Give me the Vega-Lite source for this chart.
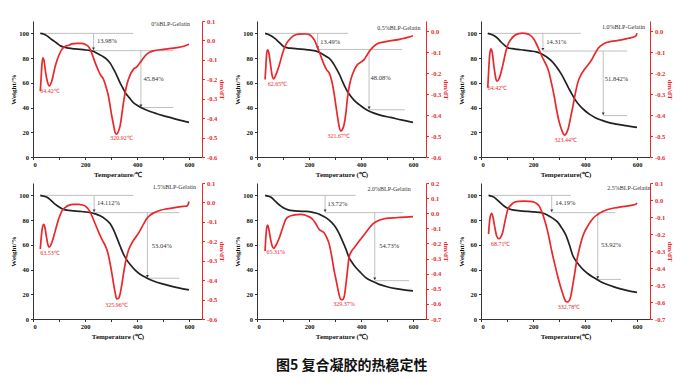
{
"$schema": "https://vega.github.io/schema/vega-lite/v6.json",
"background": "white",
"padding": {"left": 9, "top": 18, "right": 5, "bottom": 5},
"title": {"text": "图5 复合凝胶的热稳定性", "orient": "bottom", "font": "Noto Sans CJK SC", "fontSize": 14, "fontWeight": "bold", "anchor": "middle", "offset": 20, "dx": 10, "color": "#111"},
"columns": 3,
"spacing": {"row": 26, "column": 55},
"bounds": "flush",
"config": {
  "view": {"stroke": null},
  "axis": {"labelFont": "Liberation Serif", "labelFontWeight": "bold", "titleFont": "Liberation Serif", "titleFontWeight": "bold", "labelFontSize": 6.5, "titleFontSize": 7, "grid": false, "tickSize": 2.5, "domainColor": "#333", "tickColor": "#333", "labelColor": "#111", "titleColor": "#111", "labelPadding": 2, "titlePadding": 2, "labelOverlap": false}
},
"datasets": {
"tg": [
{"p":1,"t":28,"w":100},{"p":1,"t":40,"w":99.5},{"p":1,"t":54,"w":98},{"p":1,"t":66,"w":96},{"p":1,"t":79,"w":94},{"p":1,"t":92,"w":92},{"p":1,"t":105,"w":90},{"p":1,"t":120,"w":88.8},{"p":1,"t":137,"w":88},{"p":1,"t":160,"w":87.4},{"p":1,"t":182,"w":87},{"p":1,"t":200,"w":86.6},{"p":1,"t":220,"w":86},{"p":1,"t":234,"w":85.3},{"p":1,"t":246,"w":84},{"p":1,"t":265,"w":81.8},{"p":1,"t":284,"w":79},{"p":1,"t":298,"w":75.5},{"p":1,"t":310,"w":71},{"p":1,"t":322,"w":66},{"p":1,"t":335,"w":60},{"p":1,"t":345,"w":56},{"p":1,"t":355,"w":52},{"p":1,"t":370,"w":48},{"p":1,"t":386,"w":44},{"p":1,"t":405,"w":41.3},{"p":1,"t":425,"w":39},{"p":1,"t":450,"w":36.8},{"p":1,"t":476,"w":35},{"p":1,"t":500,"w":33.5},{"p":1,"t":527,"w":32},{"p":1,"t":560,"w":30},{"p":1,"t":600,"w":28},
{"p":2,"t":31,"w":100},{"p":2,"t":42,"w":99.3},{"p":2,"t":54,"w":98},{"p":2,"t":66,"w":96.3},{"p":2,"t":79,"w":94},{"p":2,"t":92,"w":91.3},{"p":2,"t":105,"w":89},{"p":2,"t":118,"w":88.3},{"p":2,"t":130,"w":88},{"p":2,"t":155,"w":87.5},{"p":2,"t":182,"w":87},{"p":2,"t":200,"w":86.7},{"p":2,"t":220,"w":86},{"p":2,"t":233,"w":85.2},{"p":2,"t":246,"w":84},{"p":2,"t":265,"w":81.5},{"p":2,"t":284,"w":78.5},{"p":2,"t":297,"w":74.5},{"p":2,"t":309,"w":70},{"p":2,"t":320,"w":65.5},{"p":2,"t":329,"w":61},{"p":2,"t":338,"w":57},{"p":2,"t":348,"w":53},{"p":2,"t":360,"w":49.3},{"p":2,"t":373,"w":46},{"p":2,"t":392,"w":42.5},{"p":2,"t":412,"w":39.5},{"p":2,"t":430,"w":37.3},{"p":2,"t":450,"w":35.5},{"p":2,"t":480,"w":33.5},{"p":2,"t":514,"w":32},{"p":2,"t":555,"w":30},{"p":2,"t":600,"w":28},
{"p":3,"t":26,"w":100},{"p":3,"t":38,"w":99.3},{"p":3,"t":51,"w":98},{"p":3,"t":64,"w":96},{"p":3,"t":77,"w":93},{"p":3,"t":90,"w":90.5},{"p":3,"t":103,"w":88.4},{"p":3,"t":120,"w":87.6},{"p":3,"t":142,"w":87},{"p":3,"t":165,"w":86.5},{"p":3,"t":193,"w":85.7},{"p":3,"t":212,"w":85},{"p":3,"t":232,"w":83.5},{"p":3,"t":250,"w":81.3},{"p":3,"t":270,"w":78},{"p":3,"t":290,"w":73},{"p":3,"t":309,"w":67},{"p":3,"t":322,"w":62},{"p":3,"t":335,"w":56.5},{"p":3,"t":348,"w":51.5},{"p":3,"t":360,"w":47},{"p":3,"t":380,"w":41.5},{"p":3,"t":399,"w":37.6},{"p":3,"t":418,"w":34.5},{"p":3,"t":438,"w":32},{"p":3,"t":463,"w":29.8},{"p":3,"t":489,"w":28},{"p":3,"t":520,"w":26.6},{"p":3,"t":554,"w":25.4},{"p":3,"t":600,"w":24},
{"p":4,"t":28,"w":100},{"p":4,"t":41,"w":99.4},{"p":4,"t":54,"w":98.4},{"p":4,"t":66,"w":96.5},{"p":4,"t":79,"w":94},{"p":4,"t":92,"w":91.8},{"p":4,"t":105,"w":90},{"p":4,"t":118,"w":88.7},{"p":4,"t":130,"w":88},{"p":4,"t":155,"w":87.5},{"p":4,"t":182,"w":87},{"p":4,"t":200,"w":86.6},{"p":4,"t":220,"w":86},{"p":4,"t":240,"w":85},{"p":4,"t":258,"w":83.5},{"p":4,"t":278,"w":80.8},{"p":4,"t":297,"w":77},{"p":4,"t":310,"w":72},{"p":4,"t":322,"w":66},{"p":4,"t":335,"w":59},{"p":4,"t":348,"w":52.4},{"p":4,"t":360,"w":48},{"p":4,"t":373,"w":44.3},{"p":4,"t":392,"w":39.8},{"p":4,"t":412,"w":36.2},{"p":4,"t":437,"w":33.2},{"p":4,"t":463,"w":30.8},{"p":4,"t":495,"w":28.6},{"p":4,"t":527,"w":26.8},{"p":4,"t":560,"w":25.2},{"p":4,"t":600,"w":23.5},
{"p":5,"t":31,"w":100},{"p":5,"t":42,"w":99.4},{"p":5,"t":54,"w":98.4},{"p":5,"t":66,"w":96.2},{"p":5,"t":79,"w":93.5},{"p":5,"t":92,"w":91.3},{"p":5,"t":105,"w":89.5},{"p":5,"t":120,"w":88.3},{"p":5,"t":137,"w":87.6},{"p":5,"t":160,"w":87.2},{"p":5,"t":188,"w":87},{"p":5,"t":210,"w":86.5},{"p":5,"t":226,"w":85.7},{"p":5,"t":245,"w":84.2},{"p":5,"t":265,"w":82},{"p":5,"t":285,"w":78.5},{"p":5,"t":303,"w":74},{"p":5,"t":316,"w":69},{"p":5,"t":329,"w":63},{"p":5,"t":342,"w":56.5},{"p":5,"t":354,"w":49.7},{"p":5,"t":367,"w":45.3},{"p":5,"t":380,"w":41.6},{"p":5,"t":400,"w":37.2},{"p":5,"t":418,"w":33.5},{"p":5,"t":444,"w":30.5},{"p":5,"t":470,"w":28},{"p":5,"t":500,"w":26.1},{"p":5,"t":534,"w":24.6},{"p":5,"t":565,"w":23.6},{"p":5,"t":600,"w":22.7},
{"p":6,"t":29,"w":100},{"p":6,"t":40,"w":99.4},{"p":6,"t":51,"w":98.4},{"p":6,"t":64,"w":96},{"p":6,"t":77,"w":93.5},{"p":6,"t":90,"w":91.2},{"p":6,"t":103,"w":89.5},{"p":6,"t":115,"w":88.6},{"p":6,"t":128,"w":88},{"p":6,"t":150,"w":87.5},{"p":6,"t":179,"w":87},{"p":6,"t":205,"w":86.6},{"p":6,"t":231,"w":86},{"p":6,"t":245,"w":85.2},{"p":6,"t":256,"w":84},{"p":6,"t":275,"w":81.6},{"p":6,"t":295,"w":78.4},{"p":6,"t":311,"w":73.5},{"p":6,"t":327,"w":67.6},{"p":6,"t":340,"w":60},{"p":6,"t":353,"w":51.4},{"p":6,"t":365,"w":47},{"p":6,"t":378,"w":43.5},{"p":6,"t":395,"w":39.5},{"p":6,"t":410,"w":36.8},{"p":6,"t":435,"w":33.3},{"p":6,"t":462,"w":30},{"p":6,"t":494,"w":27.3},{"p":6,"t":526,"w":25},{"p":6,"t":560,"w":23.2},{"p":6,"t":600,"w":21.6}
],
"dtg": [
{"p":1,"t":28,"d":-0.26},{"p":1,"t":31,"d":-0.2},{"p":1,"t":34,"d":-0.13},{"p":1,"t":38,"d":-0.09},{"p":1,"t":42,"d":-0.1},{"p":1,"t":48,"d":-0.16},{"p":1,"t":55,"d":-0.21},{"p":1,"t":63,"d":-0.234},{"p":1,"t":72,"d":-0.21},{"p":1,"t":86,"d":-0.13},{"p":1,"t":100,"d":-0.075},{"p":1,"t":111,"d":-0.046},{"p":1,"t":125,"d":-0.03},{"p":1,"t":137,"d":-0.025},{"p":1,"t":150,"d":-0.018},{"p":1,"t":169,"d":-0.015},{"p":1,"t":185,"d":-0.015},{"p":1,"t":201,"d":-0.02},{"p":1,"t":212,"d":-0.03},{"p":1,"t":220,"d":-0.046},{"p":1,"t":230,"d":-0.08},{"p":1,"t":239,"d":-0.114},{"p":1,"t":250,"d":-0.15},{"p":1,"t":258,"d":-0.174},{"p":1,"t":271,"d":-0.2},{"p":1,"t":280,"d":-0.235},{"p":1,"t":290,"d":-0.286},{"p":1,"t":303,"d":-0.389},{"p":1,"t":312,"d":-0.45},{"p":1,"t":316,"d":-0.475},{"p":1,"t":322,"d":-0.483},{"p":1,"t":328,"d":-0.47},{"p":1,"t":335,"d":-0.44},{"p":1,"t":348,"d":-0.32},{"p":1,"t":358,"d":-0.245},{"p":1,"t":367,"d":-0.2},{"p":1,"t":386,"d":-0.149},{"p":1,"t":400,"d":-0.135},{"p":1,"t":412,"d":-0.114},{"p":1,"t":425,"d":-0.09},{"p":1,"t":437,"d":-0.072},{"p":1,"t":450,"d":-0.06},{"p":1,"t":463,"d":-0.054},{"p":1,"t":501,"d":-0.046},{"p":1,"t":553,"d":-0.037},{"p":1,"t":580,"d":-0.03},{"p":1,"t":600,"d":-0.02},
{"p":2,"t":31,"d":-0.231},{"p":2,"t":34,"d":-0.17},{"p":2,"t":37,"d":-0.11},{"p":2,"t":41,"d":-0.089},{"p":2,"t":45,"d":-0.1},{"p":2,"t":52,"d":-0.16},{"p":2,"t":58,"d":-0.21},{"p":2,"t":64,"d":-0.228},{"p":2,"t":72,"d":-0.21},{"p":2,"t":86,"d":-0.16},{"p":2,"t":100,"d":-0.1},{"p":2,"t":111,"d":-0.065},{"p":2,"t":125,"d":-0.04},{"p":2,"t":137,"d":-0.025},{"p":2,"t":155,"d":-0.016},{"p":2,"t":175,"d":-0.013},{"p":2,"t":190,"d":-0.014},{"p":2,"t":201,"d":-0.017},{"p":2,"t":212,"d":-0.028},{"p":2,"t":220,"d":-0.041},{"p":2,"t":230,"d":-0.07},{"p":2,"t":239,"d":-0.097},{"p":2,"t":250,"d":-0.135},{"p":2,"t":258,"d":-0.16},{"p":2,"t":268,"d":-0.185},{"p":2,"t":278,"d":-0.2},{"p":2,"t":288,"d":-0.24},{"p":2,"t":297,"d":-0.3},{"p":2,"t":304,"d":-0.36},{"p":2,"t":310,"d":-0.41},{"p":2,"t":316,"d":-0.455},{"p":2,"t":322,"d":-0.476},{"p":2,"t":328,"d":-0.47},{"p":2,"t":335,"d":-0.445},{"p":2,"t":342,"d":-0.39},{"p":2,"t":348,"d":-0.318},{"p":2,"t":357,"d":-0.25},{"p":2,"t":367,"d":-0.207},{"p":2,"t":386,"d":-0.16},{"p":2,"t":400,"d":-0.148},{"p":2,"t":412,"d":-0.136},{"p":2,"t":425,"d":-0.11},{"p":2,"t":437,"d":-0.089},{"p":2,"t":450,"d":-0.072},{"p":2,"t":463,"d":-0.06},{"p":2,"t":480,"d":-0.054},{"p":2,"t":501,"d":-0.049},{"p":2,"t":553,"d":-0.038},{"p":2,"t":580,"d":-0.03},{"p":2,"t":600,"d":-0.022},
{"p":3,"t":26,"d":-0.27},{"p":3,"t":29,"d":-0.2},{"p":3,"t":33,"d":-0.12},{"p":3,"t":38,"d":-0.085},{"p":3,"t":43,"d":-0.1},{"p":3,"t":50,"d":-0.17},{"p":3,"t":56,"d":-0.22},{"p":3,"t":62,"d":-0.239},{"p":3,"t":70,"d":-0.225},{"p":3,"t":84,"d":-0.162},{"p":3,"t":95,"d":-0.1},{"p":3,"t":103,"d":-0.066},{"p":3,"t":115,"d":-0.04},{"p":3,"t":129,"d":-0.021},{"p":3,"t":145,"d":-0.012},{"p":3,"t":161,"d":-0.01},{"p":3,"t":175,"d":-0.012},{"p":3,"t":187,"d":-0.018},{"p":3,"t":200,"d":-0.033},{"p":3,"t":212,"d":-0.058},{"p":3,"t":222,"d":-0.085},{"p":3,"t":232,"d":-0.114},{"p":3,"t":242,"d":-0.14},{"p":3,"t":251,"d":-0.162},{"p":3,"t":260,"d":-0.19},{"p":3,"t":270,"d":-0.242},{"p":3,"t":280,"d":-0.3},{"p":3,"t":290,"d":-0.37},{"p":3,"t":300,"d":-0.43},{"p":3,"t":309,"d":-0.467},{"p":3,"t":316,"d":-0.488},{"p":3,"t":322,"d":-0.496},{"p":3,"t":328,"d":-0.488},{"p":3,"t":335,"d":-0.467},{"p":3,"t":345,"d":-0.41},{"p":3,"t":354,"d":-0.355},{"p":3,"t":364,"d":-0.29},{"p":3,"t":373,"d":-0.242},{"p":3,"t":386,"d":-0.205},{"p":3,"t":399,"d":-0.181},{"p":3,"t":412,"d":-0.16},{"p":3,"t":425,"d":-0.138},{"p":3,"t":438,"d":-0.108},{"p":3,"t":451,"d":-0.082},{"p":3,"t":463,"d":-0.068},{"p":3,"t":476,"d":-0.058},{"p":3,"t":495,"d":-0.051},{"p":3,"t":515,"d":-0.047},{"p":3,"t":540,"d":-0.042},{"p":3,"t":567,"d":-0.034},{"p":3,"t":592,"d":-0.026},{"p":3,"t":597,"d":-0.02},{"p":3,"t":600,"d":-0.01},
{"p":4,"t":28,"d":-0.24},{"p":4,"t":31,"d":-0.19},{"p":4,"t":35,"d":-0.14},{"p":4,"t":41,"d":-0.113},{"p":4,"t":46,"d":-0.13},{"p":4,"t":52,"d":-0.18},{"p":4,"t":58,"d":-0.22},{"p":4,"t":63,"d":-0.23},{"p":4,"t":70,"d":-0.215},{"p":4,"t":86,"d":-0.144},{"p":4,"t":100,"d":-0.08},{"p":4,"t":111,"d":-0.045},{"p":4,"t":125,"d":-0.025},{"p":4,"t":137,"d":-0.015},{"p":4,"t":155,"d":-0.01},{"p":4,"t":175,"d":-0.01},{"p":4,"t":190,"d":-0.013},{"p":4,"t":201,"d":-0.019},{"p":4,"t":210,"d":-0.03},{"p":4,"t":220,"d":-0.05},{"p":4,"t":230,"d":-0.08},{"p":4,"t":239,"d":-0.11},{"p":4,"t":250,"d":-0.145},{"p":4,"t":258,"d":-0.17},{"p":4,"t":268,"d":-0.198},{"p":4,"t":278,"d":-0.222},{"p":4,"t":288,"d":-0.26},{"p":4,"t":297,"d":-0.317},{"p":4,"t":304,"d":-0.37},{"p":4,"t":310,"d":-0.42},{"p":4,"t":316,"d":-0.465},{"p":4,"t":322,"d":-0.497},{"p":4,"t":328,"d":-0.495},{"p":4,"t":335,"d":-0.471},{"p":4,"t":342,"d":-0.42},{"p":4,"t":348,"d":-0.368},{"p":4,"t":357,"d":-0.3},{"p":4,"t":367,"d":-0.248},{"p":4,"t":376,"d":-0.22},{"p":4,"t":386,"d":-0.196},{"p":4,"t":399,"d":-0.172},{"p":4,"t":412,"d":-0.144},{"p":4,"t":425,"d":-0.112},{"p":4,"t":437,"d":-0.084},{"p":4,"t":450,"d":-0.066},{"p":4,"t":470,"d":-0.05},{"p":4,"t":490,"d":-0.04},{"p":4,"t":514,"d":-0.033},{"p":4,"t":545,"d":-0.027},{"p":4,"t":578,"d":-0.02},{"p":4,"t":591,"d":-0.019},{"p":4,"t":596,"d":-0.012},{"p":4,"t":600,"d":0.005},
{"p":5,"t":31,"d":-0.25},{"p":5,"t":34,"d":-0.16},{"p":5,"t":37,"d":-0.1},{"p":5,"t":41,"d":-0.078},{"p":5,"t":45,"d":-0.1},{"p":5,"t":52,"d":-0.17},{"p":5,"t":58,"d":-0.215},{"p":5,"t":64,"d":-0.233},{"p":5,"t":72,"d":-0.215},{"p":5,"t":86,"d":-0.162},{"p":5,"t":100,"d":-0.09},{"p":5,"t":111,"d":-0.04},{"p":5,"t":125,"d":-0.02},{"p":5,"t":137,"d":-0.014},{"p":5,"t":155,"d":-0.009},{"p":5,"t":169,"d":-0.008},{"p":5,"t":182,"d":-0.011},{"p":5,"t":194,"d":-0.019},{"p":5,"t":205,"d":-0.028},{"p":5,"t":214,"d":-0.04},{"p":5,"t":228,"d":-0.075},{"p":5,"t":239,"d":-0.107},{"p":5,"t":250,"d":-0.12},{"p":5,"t":258,"d":-0.129},{"p":5,"t":268,"d":-0.16},{"p":5,"t":278,"d":-0.206},{"p":5,"t":288,"d":-0.29},{"p":5,"t":297,"d":-0.383},{"p":5,"t":304,"d":-0.44},{"p":5,"t":310,"d":-0.493},{"p":5,"t":316,"d":-0.54},{"p":5,"t":322,"d":-0.57},{"p":5,"t":329,"d":-0.572},{"p":5,"t":335,"d":-0.555},{"p":5,"t":342,"d":-0.471},{"p":5,"t":348,"d":-0.38},{"p":5,"t":354,"d":-0.294},{"p":5,"t":364,"d":-0.25},{"p":5,"t":374,"d":-0.228},{"p":5,"t":384,"d":-0.205},{"p":5,"t":393,"d":-0.184},{"p":5,"t":405,"d":-0.158},{"p":5,"t":418,"d":-0.129},{"p":5,"t":431,"d":-0.1},{"p":5,"t":444,"d":-0.074},{"p":5,"t":460,"d":-0.055},{"p":5,"t":482,"d":-0.04},{"p":5,"t":505,"d":-0.033},{"p":5,"t":534,"d":-0.03},{"p":5,"t":570,"d":-0.026},{"p":5,"t":600,"d":-0.023},
{"p":6,"t":29,"d":-0.2},{"p":6,"t":32,"d":-0.14},{"p":6,"t":36,"d":-0.095},{"p":6,"t":41,"d":-0.079},{"p":6,"t":46,"d":-0.1},{"p":6,"t":53,"d":-0.16},{"p":6,"t":60,"d":-0.21},{"p":6,"t":68,"d":-0.227},{"p":6,"t":75,"d":-0.22},{"p":6,"t":83,"d":-0.192},{"p":6,"t":93,"d":-0.12},{"p":6,"t":103,"d":-0.056},{"p":6,"t":115,"d":-0.03},{"p":6,"t":128,"d":-0.013},{"p":6,"t":145,"d":-0.008},{"p":6,"t":167,"d":-0.007},{"p":6,"t":185,"d":-0.008},{"p":6,"t":205,"d":-0.013},{"p":6,"t":215,"d":-0.022},{"p":6,"t":224,"d":-0.036},{"p":6,"t":234,"d":-0.07},{"p":6,"t":244,"d":-0.114},{"p":6,"t":254,"d":-0.17},{"p":6,"t":263,"d":-0.231},{"p":6,"t":272,"d":-0.3},{"p":6,"t":282,"d":-0.367},{"p":6,"t":292,"d":-0.43},{"p":6,"t":301,"d":-0.484},{"p":6,"t":311,"d":-0.535},{"p":6,"t":321,"d":-0.581},{"p":6,"t":327,"d":-0.597},{"p":6,"t":333,"d":-0.6},{"p":6,"t":340,"d":-0.59},{"p":6,"t":346,"d":-0.561},{"p":6,"t":352,"d":-0.51},{"p":6,"t":359,"d":-0.445},{"p":6,"t":368,"d":-0.36},{"p":6,"t":378,"d":-0.289},{"p":6,"t":387,"d":-0.235},{"p":6,"t":397,"d":-0.192},{"p":6,"t":410,"d":-0.155},{"p":6,"t":423,"d":-0.124},{"p":6,"t":436,"d":-0.1},{"p":6,"t":449,"d":-0.085},{"p":6,"t":468,"d":-0.068},{"p":6,"t":487,"d":-0.056},{"p":6,"t":512,"d":-0.047},{"p":6,"t":538,"d":-0.04},{"p":6,"t":577,"d":-0.032},{"p":6,"t":595,"d":-0.025},{"p":6,"t":600,"d":-0.017}
],
"ref": [
{"p":1,"t":28,"t2":386,"w":100,"w2":100},{"p":1,"t":233,"t2":233,"w":100,"w2":86.5},{"p":1,"t":233,"t2":540,"w":86,"w2":86},{"p":1,"t":415,"t2":415,"w":86,"w2":40.5},{"p":1,"t":415,"t2":540,"w":40,"w2":40},
{"p":2,"t":31,"t2":350,"w":100,"w2":100},{"p":2,"t":233,"t2":233,"w":100,"w2":87.5},{"p":2,"t":233,"t2":559,"w":87,"w2":87},{"p":2,"t":431,"t2":431,"w":87,"w2":38.7},{"p":2,"t":431,"t2":569,"w":38.2,"w2":38.2},
{"p":3,"t":26,"t2":384,"w":100,"w2":100},{"p":3,"t":238,"t2":238,"w":100,"w2":86.3},{"p":3,"t":238,"t2":562,"w":85.7,"w2":85.7},{"p":3,"t":470,"t2":470,"w":85.7,"w2":34},{"p":3,"t":470,"t2":562,"w":33.5,"w2":33.5},
{"p":4,"t":28,"t2":386,"w":100,"w2":100},{"p":4,"t":235,"t2":235,"w":100,"w2":86.6},{"p":4,"t":235,"t2":563,"w":86,"w2":86},{"p":4,"t":440,"t2":440,"w":86,"w2":33.5},{"p":4,"t":440,"t2":563,"w":33,"w2":33},
{"p":5,"t":31,"t2":380,"w":100,"w2":100},{"p":5,"t":262,"t2":262,"w":100,"w2":86.6},{"p":5,"t":262,"t2":563,"w":86,"w2":86},{"p":5,"t":453,"t2":453,"w":86,"w2":31.5},{"p":5,"t":453,"t2":585,"w":31,"w2":31},
{"p":6,"t":29,"t2":346,"w":100,"w2":100},{"p":6,"t":272,"t2":272,"w":100,"w2":86.6},{"p":6,"t":272,"t2":517,"w":86,"w2":86},{"p":6,"t":449,"t2":449,"w":86,"w2":32.5},{"p":6,"t":449,"t2":538,"w":32,"w2":32}
],
"arrow": [
{"p":1,"t":233,"w":87.5},{"p":1,"t":415,"w":41.5},
{"p":2,"t":233,"w":88.5},{"p":2,"t":431,"w":39.7},
{"p":3,"t":238,"w":87.2},{"p":3,"t":470,"w":35},
{"p":4,"t":235,"w":87.5},{"p":4,"t":440,"w":34.5},
{"p":5,"t":262,"w":87.5},{"p":5,"t":453,"w":32.5},
{"p":6,"t":272,"w":87.5},{"p":6,"t":449,"w":33.5}
],
"pct": [
{"p":1,"t":246,"w":93.5,"label":"13.98%"},{"p":1,"t":425,"w":63,"label":"45.84%"},
{"p":2,"t":243,"w":93,"label":"13.49%"},{"p":2,"t":437,"w":64,"label":"48.08%"},
{"p":3,"t":251,"w":93,"label":"14.31%"},{"p":3,"t":476,"w":63,"label":"51.842%"},
{"p":4,"t":246,"w":93.5,"label":"14.112%"},{"p":4,"t":457,"w":59,"label":"53.04%"},
{"p":5,"t":271,"w":93,"label":"13.72%"},{"p":5,"t":470,"w":59,"label":"54.73%"},
{"p":6,"t":286,"w":93.8,"label":"14.19%"},{"p":6,"t":462,"w":60,"label":"53.92%"}
],
"nm": [
{"p":1,"t":604,"w":107.6,"label":"0%BLP-Gelatin"},
{"p":2,"t":629,"w":104.6,"label":"0.5%BLP-Gelatin"},
{"p":3,"t":631,"w":105,"label":"1.0%BLP-Gelatin"},
{"p":4,"t":627,"w":107,"label":"1.5%BLP-Gelatin"},
{"p":5,"t":591,"w":105,"label":"2.0%BLP-Gelatin"},
{"p":6,"t":652,"w":105.7,"label":"2.5%BLP-Gelatin"}
],
"peak": [
{"p":1,"t":28,"d":-0.26,"label":"64.42℃"},{"p":1,"t":297,"d":-0.5,"label":"320.92℃"},
{"p":2,"t":41,"d":-0.252,"label":"62.65℃"},{"p":2,"t":271,"d":-0.5,"label":"321.67℃"},
{"p":3,"t":26,"d":-0.271,"label":"64.42℃"},{"p":3,"t":283,"d":-0.518,"label":"323.44℃"},
{"p":4,"t":28,"d":-0.26,"label":"63.53℃"},{"p":4,"t":278,"d":-0.528,"label":"325.96℃"},
{"p":5,"t":37,"d":-0.255,"label":"65.31%"},{"p":5,"t":293,"d":-0.6,"label":"329.37%"},
{"p":6,"t":38,"d":-0.26,"label":"68.71℃"},{"p":6,"t":295,"d":-0.63,"label":"332.78℃"}
]
},
"concat": [
{"width":169,"height":136,"resolve":{"scale":{"y":"independent"}},"layer":[
 {"layer":[
  {"data":{"name":"ref"},"transform":[{"filter":"datum.p == 1"}],"mark":{"type":"rule","color":"#b0b0b0","strokeWidth":0.8},"encoding":{"x":{"field":"t","type":"quantitative","scale":{"domain":[0,650],"nice":false},"axis":{"title":"Temperature/℃","values":[0,100,200,300,400,500,600],"tickCount":20,"labelOverlap":false,"labelExpr":"datum.value % 200 === 0 ? datum.label : ''"}},"x2":{"field":"t2"},"y":{"field":"w","type":"quantitative","scale":{"domain":[0,110],"nice":false},"axis":{"title":"Weight/%","values":[0,20,40,60,80,100],"tickCount":20,"labelOverlap":false}},"y2":{"field":"w2"}}},
  {"data":{"name":"arrow"},"transform":[{"filter":"datum.p == 1"}],"mark":{"type":"point","shape":"triangle-down","filled":true,"size":9,"color":"#333","opacity":1},"encoding":{"x":{"field":"t","type":"quantitative"},"y":{"field":"w","type":"quantitative"}}},
  {"data":{"name":"pct"},"transform":[{"filter":"datum.p == 1"}],"mark":{"type":"text","align":"left","baseline":"middle","font":"Liberation Serif","fontSize":6.5,"color":"#333"},"encoding":{"x":{"field":"t","type":"quantitative"},"y":{"field":"w","type":"quantitative"},"text":{"field":"label"}}},
  {"data":{"name":"tg"},"transform":[{"filter":"datum.p == 1"}],"mark":{"type":"line","color":"#222","strokeWidth":1.7,"interpolate":"monotone"},"encoding":{"x":{"field":"t","type":"quantitative"},"y":{"field":"w","type":"quantitative"}}},
  {"data":{"name":"nm"},"transform":[{"filter":"datum.p == 1"}],"mark":{"type":"text","align":"right","baseline":"middle","font":"Liberation Serif","fontSize":6,"color":"#333"},"encoding":{"x":{"field":"t","type":"quantitative"},"y":{"field":"w","type":"quantitative"},"text":{"field":"label"}}}
 ]},
 {"layer":[
  {"data":{"name":"dtg"},"transform":[{"filter":"datum.p == 1"}],"mark":{"type":"line","color":"#e8282b","strokeWidth":1.7,"interpolate":"monotone"},"encoding":{"x":{"field":"t","type":"quantitative"},"y":{"field":"d","type":"quantitative","scale":{"domain":[-0.6,0.1],"nice":false,"zero":false},"axis":{"orient":"right","title":"dm/dT","values":[-0.6,-0.5,-0.4,-0.3,-0.2,-0.1,0,0.1],"tickCount":20,"labelOverlap":false,"labelExpr":"(datum.value < -0.001 ? '-' : '') + format(abs(datum.value), '.1f')","domainColor":"#e8282b","tickColor":"#e8282b","labelColor":"#e8282b","titleColor":"#e8282b"}}}},
  {"data":{"name":"peak"},"transform":[{"filter":"datum.p == 1"}],"mark":{"type":"text","align":"left","baseline":"middle","font":"Liberation Serif","fontSize":6,"color":"#e8282b"},"encoding":{"x":{"field":"t","type":"quantitative"},"y":{"field":"d","type":"quantitative"},"text":{"field":"label"}}}
 ]}
]},
{"width":169,"height":136,"resolve":{"scale":{"y":"independent"}},"layer":[
 {"layer":[
  {"data":{"name":"ref"},"transform":[{"filter":"datum.p == 2"}],"mark":{"type":"rule","color":"#b0b0b0","strokeWidth":0.8},"encoding":{"x":{"field":"t","type":"quantitative","scale":{"domain":[0,650],"nice":false},"axis":{"title":"Temperature (℃)","values":[0,100,200,300,400,500,600],"tickCount":20,"labelOverlap":false,"labelExpr":"datum.value % 200 === 0 ? datum.label : ''"}},"x2":{"field":"t2"},"y":{"field":"w","type":"quantitative","scale":{"domain":[0,110],"nice":false},"axis":{"title":"Weight/%","values":[0,20,40,60,80,100],"tickCount":20,"labelOverlap":false}},"y2":{"field":"w2"}}},
  {"data":{"name":"arrow"},"transform":[{"filter":"datum.p == 2"}],"mark":{"type":"point","shape":"triangle-down","filled":true,"size":9,"color":"#333","opacity":1},"encoding":{"x":{"field":"t","type":"quantitative"},"y":{"field":"w","type":"quantitative"}}},
  {"data":{"name":"pct"},"transform":[{"filter":"datum.p == 2"}],"mark":{"type":"text","align":"left","baseline":"middle","font":"Liberation Serif","fontSize":6.5,"color":"#333"},"encoding":{"x":{"field":"t","type":"quantitative"},"y":{"field":"w","type":"quantitative"},"text":{"field":"label"}}},
  {"data":{"name":"tg"},"transform":[{"filter":"datum.p == 2"}],"mark":{"type":"line","color":"#222","strokeWidth":1.7,"interpolate":"monotone"},"encoding":{"x":{"field":"t","type":"quantitative"},"y":{"field":"w","type":"quantitative"}}},
  {"data":{"name":"nm"},"transform":[{"filter":"datum.p == 2"}],"mark":{"type":"text","align":"right","baseline":"middle","font":"Liberation Serif","fontSize":6,"color":"#333"},"encoding":{"x":{"field":"t","type":"quantitative"},"y":{"field":"w","type":"quantitative"},"text":{"field":"label"}}}
 ]},
 {"layer":[
  {"data":{"name":"dtg"},"transform":[{"filter":"datum.p == 2"}],"mark":{"type":"line","color":"#e8282b","strokeWidth":1.7,"interpolate":"monotone"},"encoding":{"x":{"field":"t","type":"quantitative"},"y":{"field":"d","type":"quantitative","scale":{"domain":[-0.6,0.048],"nice":false,"zero":false},"axis":{"orient":"right","title":"dm/dT","values":[-0.6,-0.5,-0.4,-0.3,-0.2,-0.1,0],"tickCount":20,"labelOverlap":false,"labelExpr":"(datum.value < -0.001 ? '-' : '') + format(abs(datum.value), '.1f')","domainColor":"#e8282b","tickColor":"#e8282b","labelColor":"#e8282b","titleColor":"#e8282b"}}}},
  {"data":{"name":"peak"},"transform":[{"filter":"datum.p == 2"}],"mark":{"type":"text","align":"left","baseline":"middle","font":"Liberation Serif","fontSize":6,"color":"#e8282b"},"encoding":{"x":{"field":"t","type":"quantitative"},"y":{"field":"d","type":"quantitative"},"text":{"field":"label"}}}
 ]}
]},
{"width":169,"height":136,"resolve":{"scale":{"y":"independent"}},"layer":[
 {"layer":[
  {"data":{"name":"ref"},"transform":[{"filter":"datum.p == 3"}],"mark":{"type":"rule","color":"#b0b0b0","strokeWidth":0.8},"encoding":{"x":{"field":"t","type":"quantitative","scale":{"domain":[0,650],"nice":false},"axis":{"title":"Temperature(℃)","values":[0,100,200,300,400,500,600],"tickCount":20,"labelOverlap":false,"labelExpr":"datum.value % 200 === 0 ? datum.label : ''"}},"x2":{"field":"t2"},"y":{"field":"w","type":"quantitative","scale":{"domain":[0,110],"nice":false},"axis":{"title":"Weight/%","values":[0,20,40,60,80,100],"tickCount":20,"labelOverlap":false}},"y2":{"field":"w2"}}},
  {"data":{"name":"arrow"},"transform":[{"filter":"datum.p == 3"}],"mark":{"type":"point","shape":"triangle-down","filled":true,"size":9,"color":"#333","opacity":1},"encoding":{"x":{"field":"t","type":"quantitative"},"y":{"field":"w","type":"quantitative"}}},
  {"data":{"name":"pct"},"transform":[{"filter":"datum.p == 3"}],"mark":{"type":"text","align":"left","baseline":"middle","font":"Liberation Serif","fontSize":6.5,"color":"#333"},"encoding":{"x":{"field":"t","type":"quantitative"},"y":{"field":"w","type":"quantitative"},"text":{"field":"label"}}},
  {"data":{"name":"tg"},"transform":[{"filter":"datum.p == 3"}],"mark":{"type":"line","color":"#222","strokeWidth":1.7,"interpolate":"monotone"},"encoding":{"x":{"field":"t","type":"quantitative"},"y":{"field":"w","type":"quantitative"}}},
  {"data":{"name":"nm"},"transform":[{"filter":"datum.p == 3"}],"mark":{"type":"text","align":"right","baseline":"middle","font":"Liberation Serif","fontSize":6,"color":"#333"},"encoding":{"x":{"field":"t","type":"quantitative"},"y":{"field":"w","type":"quantitative"},"text":{"field":"label"}}}
 ]},
 {"layer":[
  {"data":{"name":"dtg"},"transform":[{"filter":"datum.p == 3"}],"mark":{"type":"line","color":"#e8282b","strokeWidth":1.7,"interpolate":"monotone"},"encoding":{"x":{"field":"t","type":"quantitative"},"y":{"field":"d","type":"quantitative","scale":{"domain":[-0.6,0.048],"nice":false,"zero":false},"axis":{"orient":"right","title":"dm/dT","values":[-0.6,-0.5,-0.4,-0.3,-0.2,-0.1,0],"tickCount":20,"labelOverlap":false,"labelExpr":"(datum.value < -0.001 ? '-' : '') + format(abs(datum.value), '.1f')","domainColor":"#e8282b","tickColor":"#e8282b","labelColor":"#e8282b","titleColor":"#e8282b"}}}},
  {"data":{"name":"peak"},"transform":[{"filter":"datum.p == 3"}],"mark":{"type":"text","align":"left","baseline":"middle","font":"Liberation Serif","fontSize":6,"color":"#e8282b"},"encoding":{"x":{"field":"t","type":"quantitative"},"y":{"field":"d","type":"quantitative"},"text":{"field":"label"}}}
 ]}
]},
{"width":169,"height":136,"resolve":{"scale":{"y":"independent"}},"layer":[
 {"layer":[
  {"data":{"name":"ref"},"transform":[{"filter":"datum.p == 4"}],"mark":{"type":"rule","color":"#b0b0b0","strokeWidth":0.8},"encoding":{"x":{"field":"t","type":"quantitative","scale":{"domain":[0,650],"nice":false},"axis":{"title":"Temperature (℃)","values":[0,100,200,300,400,500,600],"tickCount":20,"labelOverlap":false,"labelExpr":"datum.value % 200 === 0 ? datum.label : ''"}},"x2":{"field":"t2"},"y":{"field":"w","type":"quantitative","scale":{"domain":[0,110],"nice":false},"axis":{"title":"Weight/%","values":[0,20,40,60,80,100],"tickCount":20,"labelOverlap":false}},"y2":{"field":"w2"}}},
  {"data":{"name":"arrow"},"transform":[{"filter":"datum.p == 4"}],"mark":{"type":"point","shape":"triangle-down","filled":true,"size":9,"color":"#333","opacity":1},"encoding":{"x":{"field":"t","type":"quantitative"},"y":{"field":"w","type":"quantitative"}}},
  {"data":{"name":"pct"},"transform":[{"filter":"datum.p == 4"}],"mark":{"type":"text","align":"left","baseline":"middle","font":"Liberation Serif","fontSize":6.5,"color":"#333"},"encoding":{"x":{"field":"t","type":"quantitative"},"y":{"field":"w","type":"quantitative"},"text":{"field":"label"}}},
  {"data":{"name":"tg"},"transform":[{"filter":"datum.p == 4"}],"mark":{"type":"line","color":"#222","strokeWidth":1.7,"interpolate":"monotone"},"encoding":{"x":{"field":"t","type":"quantitative"},"y":{"field":"w","type":"quantitative"}}},
  {"data":{"name":"nm"},"transform":[{"filter":"datum.p == 4"}],"mark":{"type":"text","align":"right","baseline":"middle","font":"Liberation Serif","fontSize":6,"color":"#333"},"encoding":{"x":{"field":"t","type":"quantitative"},"y":{"field":"w","type":"quantitative"},"text":{"field":"label"}}}
 ]},
 {"layer":[
  {"data":{"name":"dtg"},"transform":[{"filter":"datum.p == 4"}],"mark":{"type":"line","color":"#e8282b","strokeWidth":1.7,"interpolate":"monotone"},"encoding":{"x":{"field":"t","type":"quantitative"},"y":{"field":"d","type":"quantitative","scale":{"domain":[-0.6,0.1],"nice":false,"zero":false},"axis":{"orient":"right","title":"dm/dT","values":[-0.6,-0.5,-0.4,-0.3,-0.2,-0.1,0,0.1],"tickCount":20,"labelOverlap":false,"labelExpr":"(datum.value < -0.001 ? '-' : '') + format(abs(datum.value), '.1f')","domainColor":"#e8282b","tickColor":"#e8282b","labelColor":"#e8282b","titleColor":"#e8282b"}}}},
  {"data":{"name":"peak"},"transform":[{"filter":"datum.p == 4"}],"mark":{"type":"text","align":"left","baseline":"middle","font":"Liberation Serif","fontSize":6,"color":"#e8282b"},"encoding":{"x":{"field":"t","type":"quantitative"},"y":{"field":"d","type":"quantitative"},"text":{"field":"label"}}}
 ]}
]},
{"width":169,"height":136,"resolve":{"scale":{"y":"independent"}},"layer":[
 {"layer":[
  {"data":{"name":"ref"},"transform":[{"filter":"datum.p == 5"}],"mark":{"type":"rule","color":"#b0b0b0","strokeWidth":0.8},"encoding":{"x":{"field":"t","type":"quantitative","scale":{"domain":[0,650],"nice":false},"axis":{"title":"Temperature (℃)","values":[0,100,200,300,400,500,600],"tickCount":20,"labelOverlap":false,"labelExpr":"datum.value % 200 === 0 ? datum.label : ''"}},"x2":{"field":"t2"},"y":{"field":"w","type":"quantitative","scale":{"domain":[0,110],"nice":false},"axis":{"title":"Weight/%","values":[0,20,40,60,80,100],"tickCount":20,"labelOverlap":false}},"y2":{"field":"w2"}}},
  {"data":{"name":"arrow"},"transform":[{"filter":"datum.p == 5"}],"mark":{"type":"point","shape":"triangle-down","filled":true,"size":9,"color":"#333","opacity":1},"encoding":{"x":{"field":"t","type":"quantitative"},"y":{"field":"w","type":"quantitative"}}},
  {"data":{"name":"pct"},"transform":[{"filter":"datum.p == 5"}],"mark":{"type":"text","align":"left","baseline":"middle","font":"Liberation Serif","fontSize":6.5,"color":"#333"},"encoding":{"x":{"field":"t","type":"quantitative"},"y":{"field":"w","type":"quantitative"},"text":{"field":"label"}}},
  {"data":{"name":"tg"},"transform":[{"filter":"datum.p == 5"}],"mark":{"type":"line","color":"#222","strokeWidth":1.7,"interpolate":"monotone"},"encoding":{"x":{"field":"t","type":"quantitative"},"y":{"field":"w","type":"quantitative"}}},
  {"data":{"name":"nm"},"transform":[{"filter":"datum.p == 5"}],"mark":{"type":"text","align":"right","baseline":"middle","font":"Liberation Serif","fontSize":6,"color":"#333"},"encoding":{"x":{"field":"t","type":"quantitative"},"y":{"field":"w","type":"quantitative"},"text":{"field":"label"}}}
 ]},
 {"layer":[
  {"data":{"name":"dtg"},"transform":[{"filter":"datum.p == 5"}],"mark":{"type":"line","color":"#e8282b","strokeWidth":1.7,"interpolate":"monotone"},"encoding":{"x":{"field":"t","type":"quantitative"},"y":{"field":"d","type":"quantitative","scale":{"domain":[-0.7,0.2],"nice":false,"zero":false},"axis":{"orient":"right","title":"dm/dT","values":[-0.7,-0.6,-0.5,-0.4,-0.3,-0.2,-0.1,0,0.1,0.2],"tickCount":20,"labelOverlap":false,"labelExpr":"(datum.value < -0.001 ? '-' : '') + format(abs(datum.value), '.1f')","domainColor":"#e8282b","tickColor":"#e8282b","labelColor":"#e8282b","titleColor":"#e8282b"}}}},
  {"data":{"name":"peak"},"transform":[{"filter":"datum.p == 5"}],"mark":{"type":"text","align":"left","baseline":"middle","font":"Liberation Serif","fontSize":6,"color":"#e8282b"},"encoding":{"x":{"field":"t","type":"quantitative"},"y":{"field":"d","type":"quantitative"},"text":{"field":"label"}}}
 ]}
]},
{"width":169,"height":136,"resolve":{"scale":{"y":"independent"}},"layer":[
 {"layer":[
  {"data":{"name":"ref"},"transform":[{"filter":"datum.p == 6"}],"mark":{"type":"rule","color":"#b0b0b0","strokeWidth":0.8},"encoding":{"x":{"field":"t","type":"quantitative","scale":{"domain":[0,650],"nice":false},"axis":{"title":"Temperature(℃)","values":[0,100,200,300,400,500,600],"tickCount":20,"labelOverlap":false,"labelExpr":"datum.value % 200 === 0 ? datum.label : ''"}},"x2":{"field":"t2"},"y":{"field":"w","type":"quantitative","scale":{"domain":[0,110],"nice":false},"axis":{"title":"Weight/%","values":[0,20,40,60,80,100],"tickCount":20,"labelOverlap":false}},"y2":{"field":"w2"}}},
  {"data":{"name":"arrow"},"transform":[{"filter":"datum.p == 6"}],"mark":{"type":"point","shape":"triangle-down","filled":true,"size":9,"color":"#333","opacity":1},"encoding":{"x":{"field":"t","type":"quantitative"},"y":{"field":"w","type":"quantitative"}}},
  {"data":{"name":"pct"},"transform":[{"filter":"datum.p == 6"}],"mark":{"type":"text","align":"left","baseline":"middle","font":"Liberation Serif","fontSize":6.5,"color":"#333"},"encoding":{"x":{"field":"t","type":"quantitative"},"y":{"field":"w","type":"quantitative"},"text":{"field":"label"}}},
  {"data":{"name":"tg"},"transform":[{"filter":"datum.p == 6"}],"mark":{"type":"line","color":"#222","strokeWidth":1.7,"interpolate":"monotone"},"encoding":{"x":{"field":"t","type":"quantitative"},"y":{"field":"w","type":"quantitative"}}},
  {"data":{"name":"nm"},"transform":[{"filter":"datum.p == 6"}],"mark":{"type":"text","align":"right","baseline":"middle","font":"Liberation Serif","fontSize":6,"color":"#333"},"encoding":{"x":{"field":"t","type":"quantitative"},"y":{"field":"w","type":"quantitative"},"text":{"field":"label"}}}
 ]},
 {"layer":[
  {"data":{"name":"dtg"},"transform":[{"filter":"datum.p == 6"}],"mark":{"type":"line","color":"#e8282b","strokeWidth":1.7,"interpolate":"monotone"},"encoding":{"x":{"field":"t","type":"quantitative"},"y":{"field":"d","type":"quantitative","scale":{"domain":[-0.7,0.1],"nice":false,"zero":false},"axis":{"orient":"right","title":"dm/dT","values":[-0.7,-0.6,-0.5,-0.4,-0.3,-0.2,-0.1,0,0.1],"tickCount":20,"labelOverlap":false,"labelExpr":"(datum.value < -0.001 ? '-' : '') + format(abs(datum.value), '.1f')","domainColor":"#e8282b","tickColor":"#e8282b","labelColor":"#e8282b","titleColor":"#e8282b"}}}},
  {"data":{"name":"peak"},"transform":[{"filter":"datum.p == 6"}],"mark":{"type":"text","align":"left","baseline":"middle","font":"Liberation Serif","fontSize":6,"color":"#e8282b"},"encoding":{"x":{"field":"t","type":"quantitative"},"y":{"field":"d","type":"quantitative"},"text":{"field":"label"}}}
 ]}
]}
]
}
